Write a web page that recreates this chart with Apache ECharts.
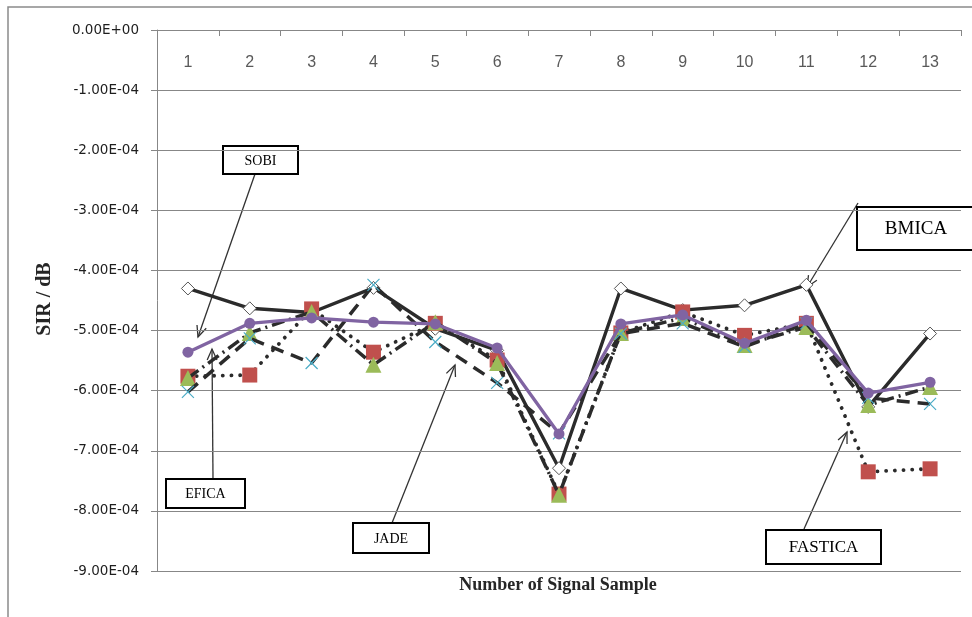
<!DOCTYPE html>
<html><head><meta charset="utf-8">
<script src="https://cdn.jsdelivr.net/npm/echarts@6/dist/echarts.min.js"></script>
<style>html,body{margin:0;padding:0;background:#fff}#c{width:972px;height:617px}</style>
</head><body><div id="c"></div>
<script>
const categories = ['1','2','3','4','5','6','7','8','9','10','11','12','13'];
const bmica   = [-4.30e-4,-4.63e-4,-4.70e-4,-4.29e-4,-4.97e-4,-5.33e-4,-7.29e-4,-4.30e-4,-4.66e-4,-4.58e-4,-4.24e-4,-6.27e-4,-5.05e-4];
const fastica = [-5.76e-4,-5.74e-4,-4.64e-4,-5.36e-4,-4.88e-4,-5.49e-4,-7.72e-4,-5.04e-4,-4.69e-4,-5.08e-4,-4.88e-4,-7.35e-4,-7.30e-4];
const efica   = [-5.79e-4,-5.04e-4,-4.69e-4,-5.57e-4,-4.86e-4,-5.54e-4,-7.73e-4,-5.04e-4,-4.79e-4,-5.24e-4,-4.94e-4,-6.24e-4,-5.94e-4];
const jade    = [-6.02e-4,-5.13e-4,-5.54e-4,-4.24e-4,-5.19e-4,-5.87e-4,-6.71e-4,-5.05e-4,-4.88e-4,-5.27e-4,-4.88e-4,-6.12e-4,-6.22e-4];
const sobi    = [-5.36e-4,-4.88e-4,-4.79e-4,-4.86e-4,-4.89e-4,-5.29e-4,-6.72e-4,-4.89e-4,-4.74e-4,-5.21e-4,-4.83e-4,-6.04e-4,-5.86e-4];
const yMin = -9e-4, yMax = 0, yStep = 1e-4;

function sci(v){
  if (Math.abs(v) < 1e-12) return '0.00E+00';
  const e = Math.floor(Math.log10(Math.abs(v)) + 1e-6);
  const m = v / Math.pow(10, e);
  return m.toFixed(2) + 'E' + (e < 0 ? '-' : '+') + String(Math.abs(e)).padStart(2, '0');
}

const LINE = '#2b2b2b';
const chart = echarts.init(document.getElementById('c'));

function box(x, y, w, h, text, size){
  return {type:'group', z:100, children:[
    {type:'rect', shape:{x:x, y:y, width:w, height:h}, style:{fill:'#fff', stroke:'#000', lineWidth:2}},
    {type:'text', x:x + w/2, y:y + h/2 + 1, style:{text:text, align:'center', verticalAlign:'middle', font:'normal ' + size + 'px "Liberation Serif", serif', fill:'#000'}}
  ]};
}
function arrow(x1, y1, x2, y2){
  const a = Math.atan2(y2 - y1, x2 - x1), L = 12, s = 0.42;
  const p1 = [x2 - L*Math.cos(a - s), y2 - L*Math.sin(a - s)];
  const p2 = [x2 - L*Math.cos(a + s), y2 - L*Math.sin(a + s)];
  return {type:'group', z:99, children:[
    {type:'line', shape:{x1:x1, y1:y1, x2:x2, y2:y2}, style:{stroke:'#333', lineWidth:1.3}},
    {type:'polyline', shape:{points:[p1, [x2, y2], p2]}, style:{stroke:'#333', lineWidth:1.3, fill:null}}
  ]};
}

const option = {
  animation:false,
  backgroundColor:'#fff',
  grid:{left:157, right:11, top:30, bottom:46, containLabel:false},
  xAxis:{
    type:'category', data:categories, position:'top', boundaryGap:true,
    axisLine:{show:true, lineStyle:{color:'#878787', width:1}},
    axisTick:{show:true, inside:true, length:6, alignWithLabel:false, lineStyle:{color:'#878787'}},
    axisLabel:{inside:true, margin:25, color:'#595959', fontSize:16, fontFamily:'"Liberation Sans", Arial, sans-serif'},
    splitLine:{show:false}
  },
  yAxis:{
    type:'value', min:yMin, max:yMax, interval:yStep,
    axisLine:{show:true, lineStyle:{color:'#878787', width:1}},
    axisTick:{show:true, length:6, lineStyle:{color:'#878787'}},
    axisLabel:{margin:18, color:'#1e1e1e', fontSize:13.5, fontFamily:'"DejaVu Sans", sans-serif', formatter:sci},
    splitLine:{show:true, lineStyle:{color:'#878787', width:1}}
  },
  series:[
    {name:'BMICA', type:'line', data:bmica, z:2, symbol:'diamond', symbolSize:13,
     lineStyle:{color:LINE, width:3.4}, itemStyle:{color:'#fff', borderColor:'#555', borderWidth:1}},
    {name:'FASTICA', type:'line', data:fastica, z:3, symbol:'rect', symbolSize:15,
     lineStyle:{color:LINE, width:3.8, type:[0.1, 8.6], cap:'round'}, itemStyle:{color:'#C0504D'}},
    {name:'EFICA', type:'line', data:efica, z:4, symbol:'triangle', symbolSize:16,
     lineStyle:{color:LINE, width:3.5, type:[13, 5, 2, 5]}, itemStyle:{color:'#9BBB59'}},
    {name:'JADE', type:'line', data:jade, z:5, symbol:'path://M0,0L10,10M10,0L0,10', symbolSize:12,
     lineStyle:{color:LINE, width:3.5, type:[13, 8]}, itemStyle:{color:'#4BACC6', borderColor:'#4BACC6', borderWidth:1.2}},
    {name:'SOBI', type:'line', data:sobi, z:6, symbol:'circle', symbolSize:11,
     lineStyle:{color:'#8064A2', width:3.3}, itemStyle:{color:'#8064A2'}}
  ],
  graphic:[
    {type:'rect', z:0, silent:true, shape:{x:8, y:7, width:1000, height:640}, style:{fill:null, stroke:'#8a8a8a', lineWidth:1.5}},
    {type:'text', x:45, y:299, rotation:Math.PI/2, z:50,
     style:{text:'SIR / dB', align:'center', verticalAlign:'middle', font:'bold 20px "Liberation Serif", serif', fill:'#262626'}},
    {type:'text', x:558, y:585, z:50,
     style:{text:'Number of Signal Sample', align:'center', verticalAlign:'middle', font:'bold 18px "Liberation Serif", serif', fill:'#262626'}},
    arrow(255, 174, 198, 337),
    arrow(213, 479, 212, 349),
    arrow(392, 523, 455, 365),
    arrow(858, 203, 807, 287),
    arrow(804, 529, 847, 432),
    box(223, 146, 75, 28, 'SOBI', 14),
    box(166, 479, 79, 29, 'EFICA', 14),
    box(353, 523, 76, 30, 'JADE', 14),
    box(857, 207, 118, 43, 'BMICA', 19),
    box(766, 530, 115, 34, 'FASTICA', 17)
  ]
};
chart.setOption(option);
</script></body></html>
